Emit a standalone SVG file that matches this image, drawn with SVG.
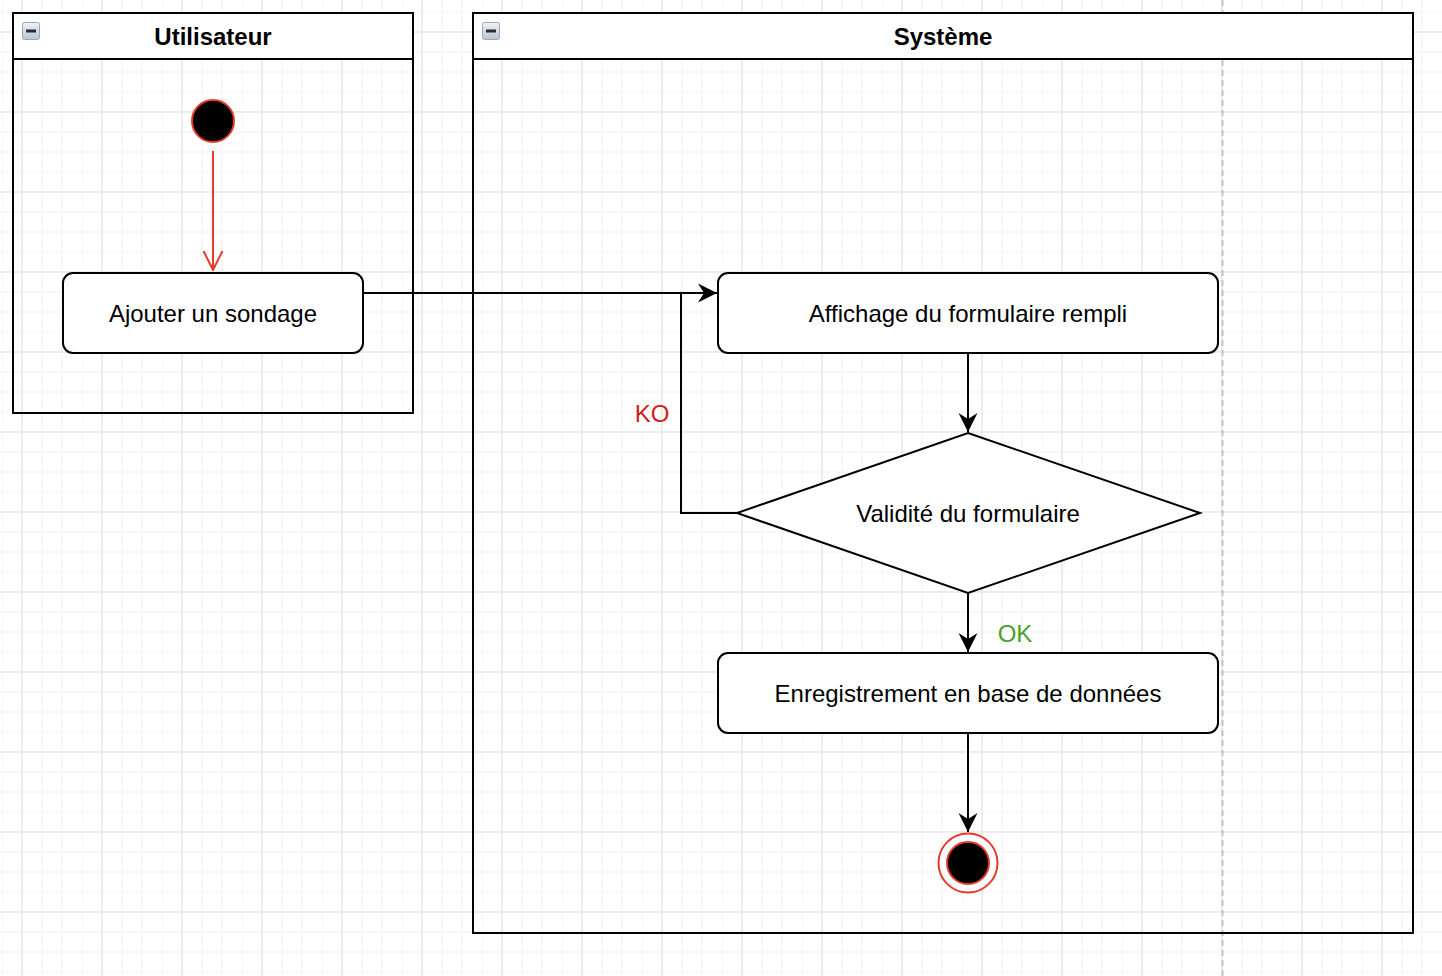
<svg xmlns="http://www.w3.org/2000/svg" width="1442" height="976" viewBox="0 0 1442 976">
  <style>
    .pool { fill: #ffffff; stroke: #000000; stroke-width: 2; }
    .poolbody { fill: none; stroke: #000000; stroke-width: 2; }
    .title { font-family: "Liberation Sans", Arial, sans-serif; font-size: 24px; font-weight: bold; fill: #000000; text-anchor: middle; }
    .label { font-family: "Liberation Sans", Arial, sans-serif; font-size: 24px; fill: #000000; text-anchor: middle; }
    .action { fill: #ffffff; stroke: #000000; stroke-width: 2; }
    .edge { fill: none; stroke: #000000; stroke-width: 2; }
    .edge-red { fill: none; stroke: #e8392b; stroke-width: 2; }
    .ko { fill: #cc2219; }
    .ok { fill: #47a02a; }
  </style>
  <defs>
    <pattern id="grid" x="2" y="12" width="80" height="80" patternUnits="userSpaceOnUse">
      <path d="M0 0V80M20 0V80M40 0V80M60 0V80M0 0H80M0 20H80M0 40H80M0 60H80" fill="none" stroke="#f1f1f1" stroke-width="1"/>
      <path d="M20 0V80M0 20H80" fill="none" stroke="#e0e0e0" stroke-width="1"/>
    </pattern>
    <linearGradient id="iconFill" x1="0" y1="0" x2="0" y2="1">
      <stop offset="0" stop-color="#eef2f7"/>
      <stop offset="1" stop-color="#b9c4d2"/>
    </linearGradient>
    <marker id="block" markerUnits="userSpaceOnUse" viewBox="-20 -10 21 20" refX="0" refY="0" markerWidth="21" markerHeight="20" orient="auto">
      <path d="M0 0L-19 -9.5L-13 0L-19 9.5Z" fill="#000000"/>
    </marker>
    <marker id="open" markerUnits="userSpaceOnUse" viewBox="-21 -11 22 22" refX="0" refY="0" markerWidth="22" markerHeight="22" orient="auto">
      <path d="M-19 -9.5L0 0L-19 9.5" fill="none" stroke="#e8392b" stroke-width="2"/>
    </marker>
    <g id="collapse">
      <rect x="0.5" y="0.5" width="17" height="17" rx="2" fill="url(#iconFill)" stroke="#9aa8ba" stroke-width="1"/>
      <rect x="4" y="7.5" width="10" height="3" fill="#2b2b2b"/>
    </g>
  </defs>

  <!-- page background with grid -->
  <rect x="0" y="0" width="1442" height="976" fill="#ffffff"/>
  <rect x="0" y="0" width="1442" height="976" fill="url(#grid)"/>

  <!-- page break guide -->
  <line x1="1222.5" y1="0" x2="1222.5" y2="976" stroke="#c4c4c4" stroke-width="2" stroke-dasharray="6 4"/>

  <!-- swimlane: Utilisateur -->
  <g id="lane-utilisateur">
    <rect class="poolbody" x="13" y="13" width="400" height="400"/>
    <rect class="pool" x="13" y="13" width="400" height="46"/>
    <use href="#collapse" x="22" y="22"/>
    <text class="title" x="213" y="45">Utilisateur</text>
  </g>

  <!-- swimlane: Système -->
  <g id="lane-systeme">
    <rect class="poolbody" x="473" y="13" width="940" height="920"/>
    <rect class="pool" x="473" y="13" width="940" height="46"/>
    <use href="#collapse" x="482" y="22"/>
    <text class="title" x="943" y="45">Système</text>
  </g>

  <!-- connectors -->
  <g id="connectors">
    <path class="edge-red" d="M213 151V270" marker-end="url(#open)"/>
    <path class="edge" d="M363 293H717" marker-end="url(#block)"/>
    <path class="edge" d="M737 513H681V293H700"/>
    <path class="edge" d="M968 353V432" marker-end="url(#block)"/>
    <path class="edge" d="M968 593V652" marker-end="url(#block)"/>
    <path class="edge" d="M968 733V832" marker-end="url(#block)"/>
    <text class="label ko" x="652" y="422">KO</text>
    <text class="label ok" x="1015" y="642">OK</text>
  </g>

  <!-- start node -->
  <g id="start">
    <circle cx="213" cy="121" r="21" fill="#000000" stroke="#e8392b" stroke-width="2"/>
  </g>

  <!-- action: Ajouter un sondage -->
  <g id="ajouter-sondage">
    <rect class="action" x="63" y="273" width="300" height="80" rx="10"/>
    <text class="label" x="213" y="322">Ajouter un sondage</text>
  </g>

  <!-- action: Affichage du formulaire rempli -->
  <g id="affichage-formulaire">
    <rect class="action" x="718" y="273" width="500" height="80" rx="10"/>
    <text class="label" x="968" y="322">Affichage du formulaire rempli</text>
  </g>

  <!-- decision: Validité du formulaire -->
  <g id="validite-formulaire">
    <polygon class="action" points="968,433 1200,513 968,593 737,513"/>
    <text class="label" x="968" y="522">Validité du formulaire</text>
  </g>

  <!-- action: Enregistrement en base de données -->
  <g id="enregistrement">
    <rect class="action" x="718" y="653" width="500" height="80" rx="10"/>
    <text class="label" x="968" y="702">Enregistrement en base de données</text>
  </g>

  <!-- final node -->
  <g id="end">
    <circle cx="968" cy="863" r="29.5" fill="#ffffff" stroke="#e8392b" stroke-width="2"/>
    <circle cx="968" cy="863" r="21" fill="#000000" stroke="#e8392b" stroke-width="2"/>
  </g>
</svg>
